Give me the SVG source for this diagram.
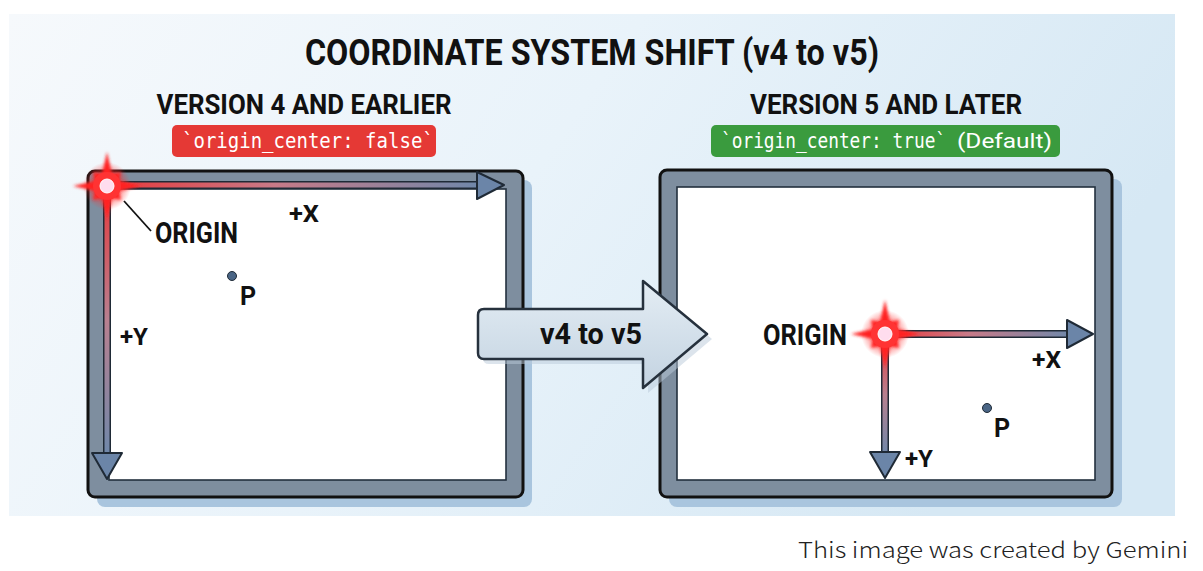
<svg xmlns="http://www.w3.org/2000/svg" width="1203" height="571" viewBox="0 0 1203 571">
<style>
.h{font-family:Roboto,"Liberation Sans",sans-serif;font-weight:700;fill:#111}
.mono{font-family:"DejaVu Sans Mono","Liberation Mono",monospace;fill:#fff}
.lbl{font-family:Roboto,"Liberation Sans",sans-serif;font-weight:700;fill:#111}
.frame{fill:#7e8e9f;stroke:#111;stroke-width:3}
.shadow{fill:#a9c5de}
.inner{fill:#fff;stroke:#22303e;stroke-width:1.6}
.shaftO{stroke:#1f2a36;stroke-width:8;fill:none}
.head{fill:#6b85a8;stroke:#1f2a36;stroke-width:2;stroke-linejoin:round}
.dot{fill:#4a6585;stroke:#1f2a36;stroke-width:1}
</style>
<defs>
<linearGradient id="bg" x1="0" y1="0" x2="1" y2="0.3">
<stop offset="0" stop-color="#f6f9fc"/>
<stop offset="0.5" stop-color="#e9f3fa"/>
<stop offset="1" stop-color="#d6e8f4"/>
</linearGradient>
<linearGradient id="gxL" gradientUnits="userSpaceOnUse" x1="107" y1="0" x2="480" y2="0">
<stop offset="0" stop-color="#e8383a"/>
<stop offset="0.45" stop-color="#c87a88"/>
<stop offset="1" stop-color="#6f88aa"/>
</linearGradient>
<linearGradient id="gyL" gradientUnits="userSpaceOnUse" x1="0" y1="186" x2="0" y2="455">
<stop offset="0" stop-color="#e8383a"/>
<stop offset="0.5" stop-color="#b88090"/>
<stop offset="1" stop-color="#6f88aa"/>
</linearGradient>
<linearGradient id="gxR" gradientUnits="userSpaceOnUse" x1="885" y1="0" x2="1070" y2="0">
<stop offset="0" stop-color="#e8383a"/>
<stop offset="0.45" stop-color="#c87a88"/>
<stop offset="1" stop-color="#6f88aa"/>
</linearGradient>
<linearGradient id="gyR" gradientUnits="userSpaceOnUse" x1="0" y1="334" x2="0" y2="455">
<stop offset="0" stop-color="#e8383a"/>
<stop offset="0.5" stop-color="#b88090"/>
<stop offset="1" stop-color="#6f88aa"/>
</linearGradient>
<linearGradient id="big" x1="0" y1="0" x2="0" y2="1">
<stop offset="0" stop-color="#e4edf4"/>
<stop offset="1" stop-color="#c3d3e1"/>
</linearGradient>
<radialGradient id="glow">
<stop offset="0" stop-color="#ff3030" stop-opacity="0.95"/>
<stop offset="0.5" stop-color="#ff3030" stop-opacity="0.6"/>
<stop offset="1" stop-color="#ff3030" stop-opacity="0"/>
</radialGradient>
<filter id="blur" x="-50%" y="-50%" width="200%" height="200%"><feGaussianBlur stdDeviation="1.5"/></filter>
<g id="star">
<circle r="24" fill="url(#glow)"/>
<polygon filter="url(#blur)" fill="#f22" points="0,-34 5,-12 14,-14 12,-5 34,0 12,5 14,14 5,12 0,34 -5,12 -14,14 -12,5 -34,0 -12,-5 -14,-14 -5,-12"/>
<circle r="14" fill="#f33"/>
<circle r="7" fill="#fde" stroke="#fff" stroke-width="1"/>
</g>
</defs>
<rect width="1203" height="571" fill="#fff"/>
<rect x="9" y="14" width="1166" height="502" fill="url(#bg)"/>
<text class="h" x="592" y="65" font-size="36" text-anchor="middle" textLength="574" lengthAdjust="spacingAndGlyphs">COORDINATE SYSTEM SHIFT (v4 to v5)</text>

<g id="left-panel">
<text class="h" x="304" y="114" font-size="28" text-anchor="middle" textLength="295" lengthAdjust="spacingAndGlyphs">VERSION 4 AND EARLIER</text>
<rect x="172" y="125" width="264" height="32" rx="5" fill="#e53935"/>
<text class="mono" font-size="22" transform="translate(182,148) scale(0.865,1)">`origin_center: false`</text>
<rect class="shadow" x="97" y="180" width="435" height="327" rx="8"/>
<rect class="frame" x="88" y="171" width="435" height="326" rx="7"/>
<rect class="inner" x="109" y="189" width="397" height="291"/>
</g>

<g id="right-panel">
<text class="h" x="886" y="114" font-size="28" text-anchor="middle" textLength="272" lengthAdjust="spacingAndGlyphs">VERSION 5 AND LATER</text>
<rect x="711" y="125" width="349" height="32" rx="5" fill="#3a9b3e"/>
<text class="mono" font-size="22" transform="translate(721,148) scale(0.81,1)">`origin_center: true`</text>
<text x="957" y="148" font-size="21" fill="#fff" font-family="Roboto,'Liberation Sans',sans-serif" textLength="95" lengthAdjust="spacingAndGlyphs">(Default)</text>
<rect class="shadow" x="669" y="179" width="453" height="328" rx="8"/>
<rect class="frame" x="660" y="170" width="452" height="327" rx="7"/>
<rect class="inner" x="677" y="187" width="418" height="293"/>
</g>

<g id="connectors">
<line class="shaftO" x1="100" y1="185" x2="480" y2="185"/>
<line x1="100" y1="185" x2="480" y2="185" stroke="url(#gxL)" stroke-width="5"/>
<polygon class="head" points="477,172 504,185 477,199"/>
<line class="shaftO" x1="107" y1="180" x2="107" y2="455"/>
<line x1="107" y1="180" x2="107" y2="455" stroke="url(#gyL)" stroke-width="5"/>
<polygon class="head" points="92,453 122,453 107,479"/>
<line x1="124" y1="201" x2="151" y2="231" stroke="#111" stroke-width="1.8"/>
<line class="shaftO" x1="885" y1="334" x2="1068" y2="334"/>
<line x1="885" y1="334" x2="1068" y2="334" stroke="url(#gxR)" stroke-width="5"/>
<polygon class="head" points="1067,320 1093,334 1067,348"/>
<line class="shaftO" x1="885" y1="334" x2="885" y2="454"/>
<line x1="885" y1="334" x2="885" y2="454" stroke="url(#gyR)" stroke-width="5"/>
<polygon class="head" points="870,452 900,452 885,478"/>
</g>

<g id="origin-left">
<use href="#star" x="107" y="186"/>
<text class="lbl" x="155" y="243" font-size="29" textLength="83" lengthAdjust="spacingAndGlyphs">ORIGIN</text>
</g>
<g id="xlabel-left"><text class="lbl" x="289" y="222" font-size="23" textLength="30" lengthAdjust="spacingAndGlyphs">+X</text></g>
<g id="ylabel-left"><text class="lbl" x="120" y="345" font-size="23" textLength="28" lengthAdjust="spacingAndGlyphs">+Y</text></g>
<g id="p-left">
<circle class="dot" cx="232" cy="276" r="4.5"/>
<text class="lbl" x="240" y="305" font-size="25">P</text>
</g>

<g id="origin-right">
<use href="#star" x="885" y="334"/>
<text class="lbl" x="763" y="345" font-size="29" textLength="84" lengthAdjust="spacingAndGlyphs">ORIGIN</text>
</g>
<g id="xlabel-right"><text class="lbl" x="1032" y="368" font-size="23" textLength="29" lengthAdjust="spacingAndGlyphs">+X</text></g>
<g id="ylabel-right"><text class="lbl" x="905" y="467" font-size="23" textLength="28" lengthAdjust="spacingAndGlyphs">+Y</text></g>
<g id="p-right">
<circle class="dot" cx="987" cy="408" r="4.5"/>
<text class="lbl" x="994" y="437" font-size="25">P</text>
</g>

<g id="shift-arrow">
<path d="M484,309 H643 V281 L707,334 L643,388 V359 H484 Q478,359 478,353 V315 Q478,309 484,309 Z" fill="#b9cad9" opacity="0.5" transform="translate(5,5)"/>
<path d="M484,309 H643 V281 L707,334 L643,388 V359 H484 Q478,359 478,353 V315 Q478,309 484,309 Z" fill="url(#big)" stroke="#26313d" stroke-width="2.5" stroke-linejoin="round"/>
<text class="lbl" x="591" y="344" font-size="29" text-anchor="middle" textLength="102" lengthAdjust="spacingAndGlyphs">v4 to v5</text>
</g>

<text x="798" y="558" font-size="22" font-weight="300" fill="#222" font-family="'Noto Sans CJK JP','Noto Sans',sans-serif" textLength="390" lengthAdjust="spacingAndGlyphs">This image was created by Gemini</text>
</svg>
